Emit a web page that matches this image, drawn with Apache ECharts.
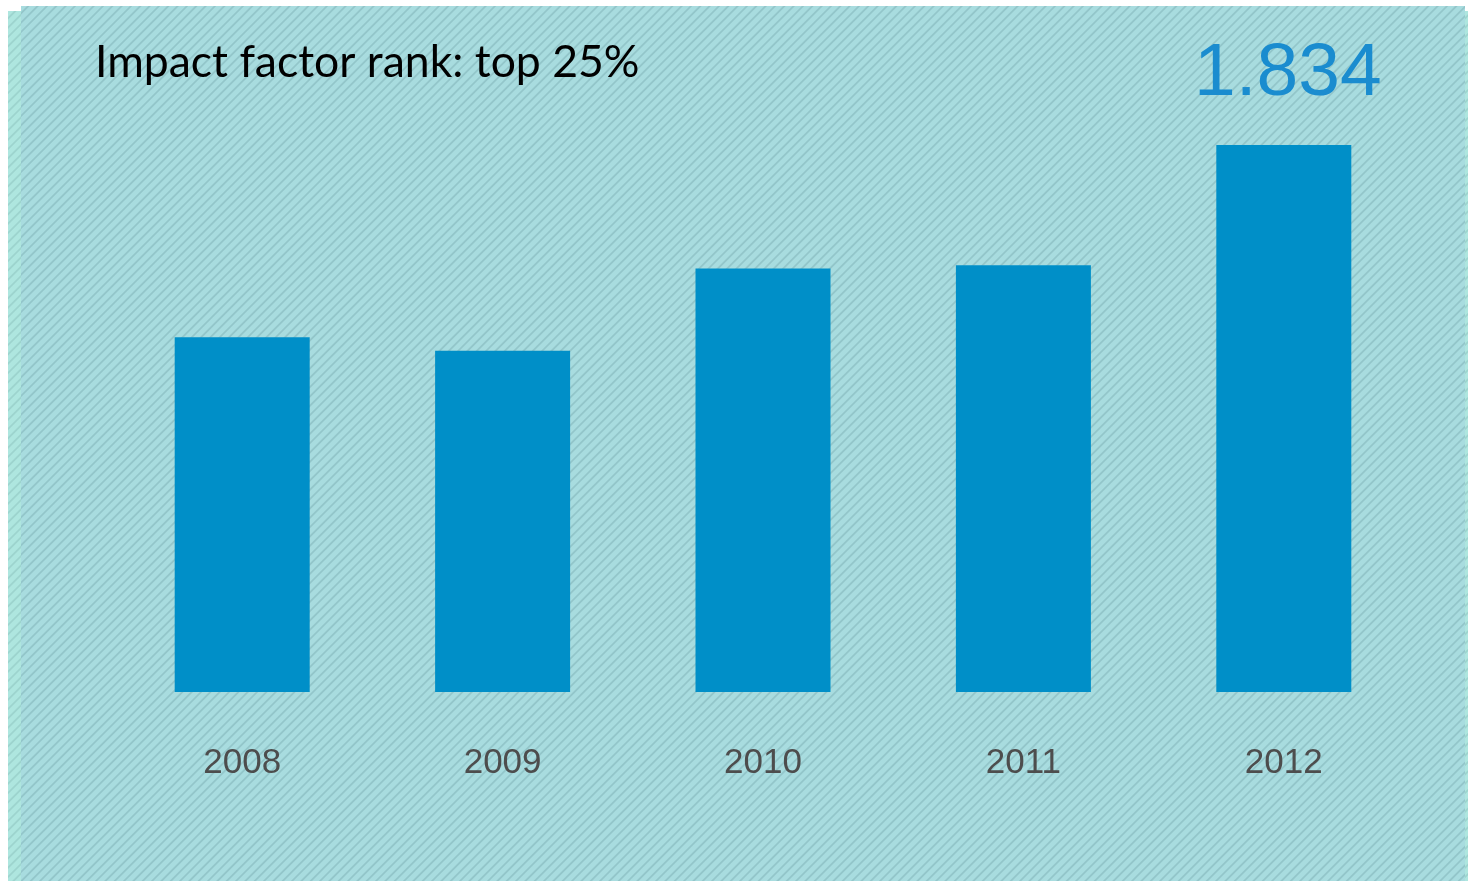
<!doctype html>
<html>
<head>
    <meta charset="utf-8">
    <title>Impact factor</title>
    <style>
        html, body {
            margin: 0;
            padding: 0;
            background: #ffffff;
        }

        .strip {
            position: absolute;
            background: repeating-linear-gradient(135deg, #aee6df 0px, #aee6df 3.8px, #9dd4ce 4.8px, #9dd4ce 5.6px, #aee6df 6.6px);
        }

        .panel {
            position: absolute;
            left: 21px;
            top: 6px;
            width: 1444px;
            height: 875px;
            background: repeating-linear-gradient(135deg, #a8dcdf 0px, #a8dcdf 3.8px, #93c6ca 4.8px, #93c6ca 5.6px, #a8dcdf 6.6px);
        }

        #main {
            position: absolute;
            left: 0;
            top: 0;
            width: 1468px;
            height: 881px;
        }
    </style>
</head>
<body>
    <div class="strip" style="left:8px;top:11px;width:13px;height:870px;"></div>
    <div class="strip" style="left:1465px;top:11px;width:3px;height:870px;"></div>
    <div class="panel"></div>
    <div id="main"></div>
</body>
</html>
<script type="text/javascript" src="https://cdn.jsdelivr.net/npm/echarts@6/dist/echarts.min.js"></script>
<script type="text/javascript">
    // data
    var years = ['2008', '2009', '2010', '2011', '2012'];
    var impactFactor = [1.189, 1.144, 1.420, 1.431, 1.834];
    var titleText = 'Impact factor rank: top 25%';

    var lastIdx = impactFactor.length - 1;
    var barData = impactFactor.map(function(v, i) {
        if (i == lastIdx) {
            return {
                value: v,
                label: {
                    show: true,
                    position: 'top',
                    distance: 33,
                    color: '#1a8ccf',
                    fontFamily: 'Liberation Sans',
                    fontSize: 75,
                    offset: [4, 0],
                    formatter: function(p) {
                        return p.value.toFixed(3);
                    }
                }
            };
        }
        return v;
    });

    var myChart = echarts.init(document.getElementById('main'));

    var option = {
        backgroundColor: 'transparent',
        animation: false,
        title: {
            text: titleText,
            left: 90,
            top: 35,
            textStyle: {
                color: '#000000',
                fontFamily: 'Lato',
                fontWeight: 'normal',
                fontSize: 44.5
            }
        },
        grid: {
            left: 112,
            right: 54,
            top: 145,
            bottom: 189
        },
        xAxis: {
            type: 'category',
            data: years,
            axisLine: { show: false },
            axisTick: { show: false },
            axisLabel: {
                margin: 54,
                color: '#4d4d4d',
                fontFamily: 'Liberation Sans',
                fontSize: 35
            }
        },
        yAxis: {
            type: 'value',
            min: 0,
            max: 1.834,
            show: false,
            splitLine: { show: false }
        },
        series: [{
            name: 'Impact factor',
            type: 'bar',
            barWidth: 135,
            itemStyle: {
                color: '#008fc8'
            },
            data: barData
        }]
    };

    myChart.setOption(option);
</script>
